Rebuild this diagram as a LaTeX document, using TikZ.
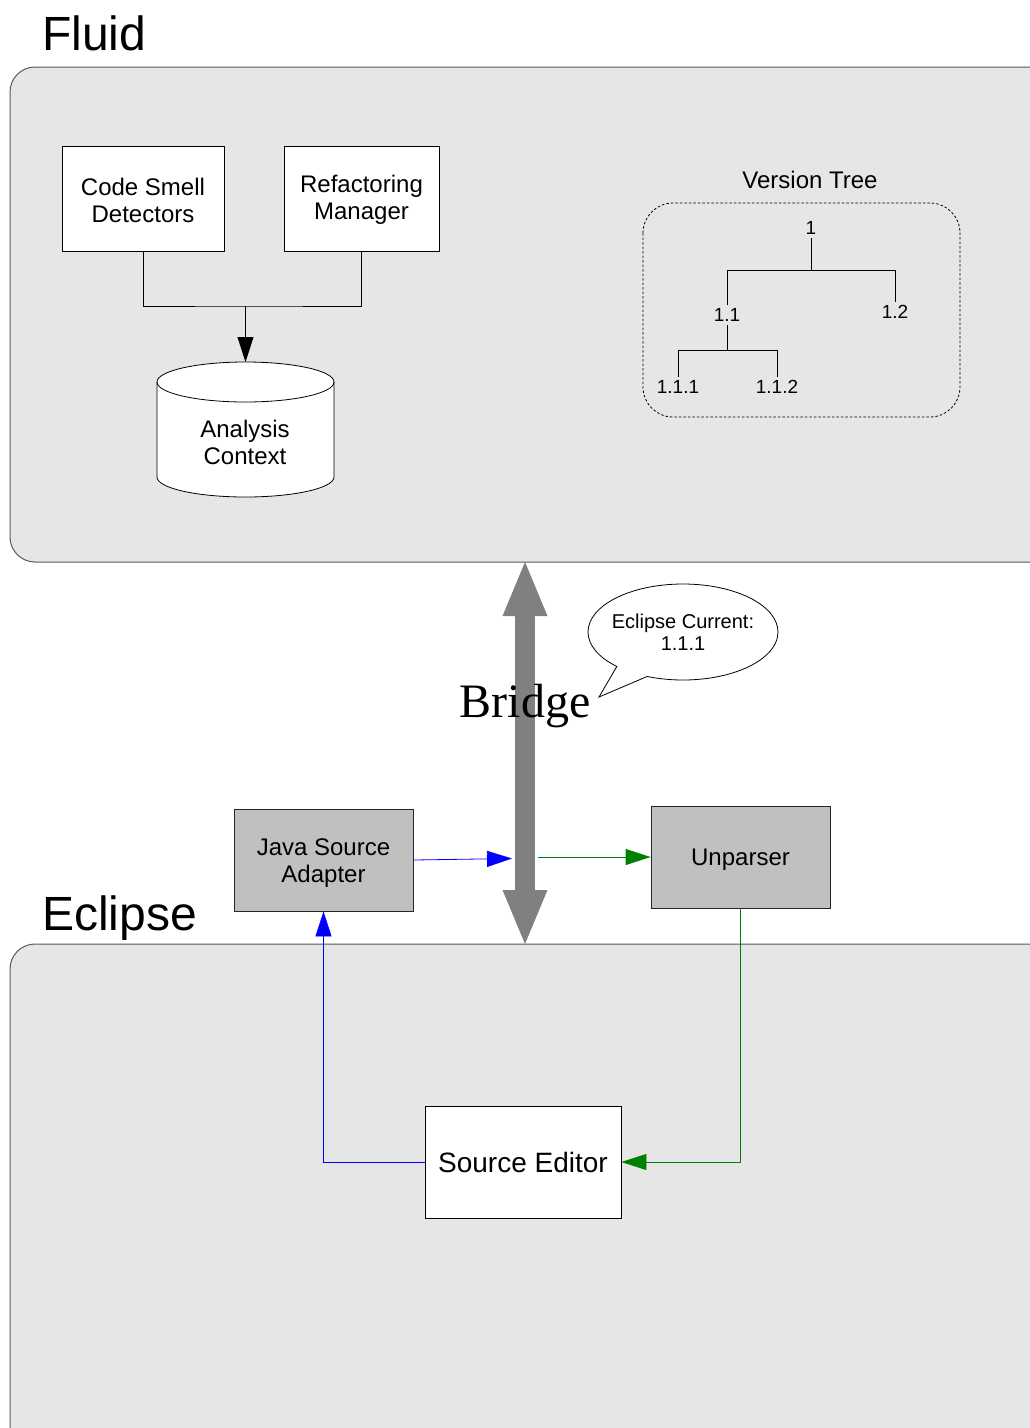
\documentclass[tikz,border=0pt]{standalone}
\usepackage{fontspec}
\setmainfont{Liberation Sans}
\newfontfamily\serifff{Liberation Serif}
\usetikzlibrary{arrows.meta,shapes.callouts,shapes.geometric}
\definecolor{contfill}{HTML}{E6E6E6}
\definecolor{boxgray}{HTML}{C0C0C0}
\definecolor{bridgegray}{HTML}{808080}
\definecolor{dgreen}{RGB}{0,128,0}
\tikzset{
  container/.style={draw=black!65, fill=contfill, line width=1pt, rounded corners=25pt},
  whitebox/.style={draw=black, fill=white, line width=0.8pt, align=center, font=\fontsize{24}{28}\selectfont, inner sep=0pt},
  graybox/.style={draw=black!85, fill=boxgray, line width=0.8pt, align=center, font=\fontsize{24}{28}\selectfont, inner sep=0pt},
  boxtext/.style={align=center, font=\fontsize{24}{27}\selectfont, inner sep=0pt},
  bigtitle/.style={font=\fontsize{48}{52}\selectfont, anchor=base west, inner sep=0pt},
  treelbl/.style={font=\fontsize{19}{22}\selectfont, inner sep=3.5pt},
  conn/.style={line width=0.8pt},
  tip/.style={-{Triangle[length=25pt,width=16pt]}},
}
\begin{document}
\begin{tikzpicture}[x=1pt,y=-1pt]
\useasboundingbox (0,0) rectangle (1029,1428);
% containers
\draw[container] (10,67) rectangle (1060,562);
\draw[container] (10,944) rectangle (1060,1470);
\node[bigtitle] (fluid) at (42,50) {Fluid};
\node[bigtitle] (eclipse) at (42,930) {Eclipse};

% Fluid content
\node[whitebox, minimum width=162pt, minimum height=105pt] (csd) at (143,198.5) {};
\node[boxtext] (csdt) at (143,200) {Code Smell\\Detectors};
\node[whitebox, minimum width=155pt, minimum height=105pt] (rm) at (361.5,198.5) {};
\node[boxtext] (rmt) at (361.5,199.5) {Refactoring\\Manager};
% cylinder
\coordinate (actop) at (245.5,362);
\fill[white] (157,382) -- (157,477) arc (180:360:88.5pt and 20pt) -- (334,382) arc (0:180:88.5pt and 20pt) -- cycle;
\draw[line width=0.8pt] (157,382) -- (157,477) arc (180:360:88.5pt and 20pt) -- (334,382) arc (0:180:88.5pt and 20pt) -- cycle;
\draw[line width=0.8pt] (157,382) arc (180:360:88.5pt and 20pt);
\node[boxtext] (ac) at (245,442) {Analysis\\Context};
\coordinate (join) at (245.5,306);
\draw[conn] (csd.south) |- (join) -| (rm.south);
\draw[conn, tip] (join) -- (actop);

% Version tree
\node[font=\fontsize{24}{28}\selectfont, inner sep=0pt] (vtl) at (810,180) {Version Tree};
\draw[line width=0.8pt, dash pattern=on 2.5pt off 2pt, rounded corners=30pt] (643,203) rectangle (960,417);
\node[treelbl] (t1) at (811,228) {1};
\node[treelbl] (t11) at (727,315) {1.1};
\node[treelbl] (t12) at (895,312) {1.2};
\node[treelbl] (t111) at (678,387) {1.1.1};
\node[treelbl] (t112) at (777,387) {1.1.2};
\coordinate (b1) at (811,270);
\coordinate (b11) at (727,350);
\draw[conn] (t1.south) -- (b1) -| (t11.north);
\draw[conn] (b1) -| (t12.north);
\draw[conn] (t11.south) -- (b11) -| (t111.north);
\draw[conn] (b11) -| (t112.north);

% Bridge
\coordinate (brt) at (525,559);
\coordinate (brb) at (525,947);
\draw[bridgegray, line width=20pt, {Triangle[length=57pt,width=40pt]}-{Triangle[length=57pt,width=40pt]}] (brt) -- (brb);
\node[font=\serifff\fontsize{48}{52}\selectfont, anchor=base, inner sep=0pt] (bridge) at (525,717) {Bridge};

% callout
\node[ellipse callout, draw=black, fill=white, line width=0.8pt, minimum width=190pt, minimum height=96pt,
  callout absolute pointer={(599,697)}, callout pointer arc=22, align=center,
  font=\fontsize{20}{22}\selectfont, inner sep=-7pt] (callout) at (683,632) {Eclipse Current:\\1.1.1};

% Java source adapter and unparser
\node[graybox, minimum width=179pt, minimum height=102pt] (jsa) at (323.5,860) {};
\node[boxtext] (jsat) at (323.5,863) {Java Source\\Adapter};
\node[graybox, minimum width=179pt, minimum height=102pt] (up) at (740.5,857) {};
\node[boxtext] (upt) at (740.5,860) {Unparser};
\coordinate (bl) at (512,858.5);
\coordinate (br) at (538,857);
\draw[conn, blue, tip] (jsa.east) -- (bl);
\draw[conn, dgreen, tip] (br) -- (up.west);

% Source editor
\node[whitebox, minimum width=196pt, minimum height=112pt, font=\fontsize{28}{32}\selectfont] (se) at (523,1162) {Source Editor};
\draw[conn, blue, tip] (se.west) -| (jsa.south);
\draw[conn, dgreen, tip] (up.south) |- (se.east);
\end{tikzpicture}
\end{document}
